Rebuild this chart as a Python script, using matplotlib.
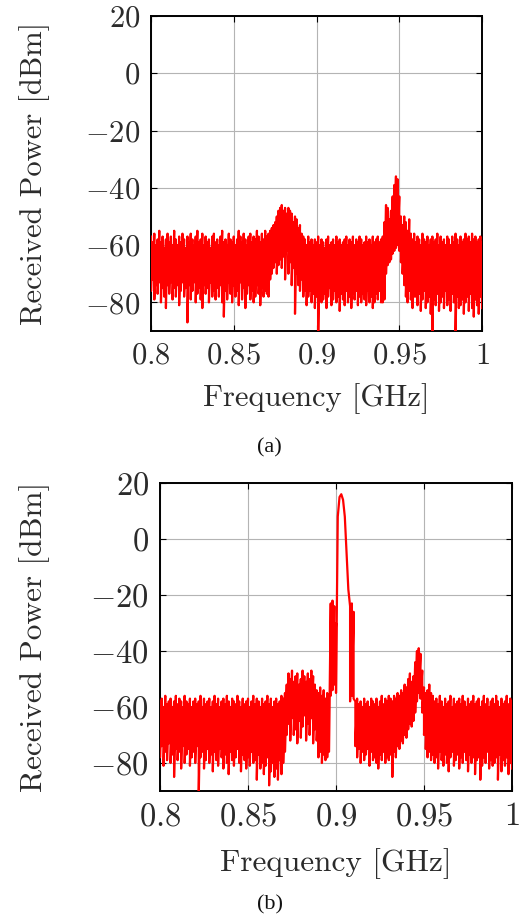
import numpy as np
import matplotlib
matplotlib.use("Agg")
import matplotlib.pyplot as plt

# frequency grid [GHz], 1 MHz steps
freq = np.round(np.linspace(0.8, 1.0, 201), 3)

# (a) upper / lower edge of the measured trace [dBm]
upper_a = [
    -57, -59, -56, -60, -58, -55, -59, -57, -61, -58,
    -56, -59, -57, -60, -55, -58, -60, -57, -59, -56,
    -58, -61, -57, -59, -56, -58, -60, -57, -55, -59,
    -58, -56, -60, -57, -59, -58, -61, -57, -56, -59,
    -58, -60, -57, -55, -59, -58, -60, -56, -58, -59,
    -57, -60, -58, -55, -57, -59, -56, -58, -60, -57,
    -56, -59, -57, -58, -55, -57, -59, -56, -58, -55,
    -57, -56, -55, -54, -53, -52, -50, -48, -47, -46,
    -48, -47, -49, -47, -48, -49, -52, -50, -51, -54,
    -53, -56, -57, -58, -60, -57, -59, -58, -60, -58,
    -59, -57, -60, -58, -59, -61, -58, -57, -60, -59,
    -58, -60, -57, -59, -58, -60, -59, -58, -57, -60,
    -58, -59, -57, -60, -58, -59, -57, -58, -60, -59,
    -57, -59, -58, -60, -57, -59, -58, -57, -59, -58,
    -57, -52, -46, -47, -51, -48, -43, -39, -36, -37,
    -43, -50, -53, -50, -52, -55, -51, -56, -58, -56,
    -59, -57, -58, -60, -56, -58, -59, -57, -60, -58,
    -57, -59, -58, -56, -60, -57, -59, -58, -60, -57,
    -58, -60, -57, -59, -56, -58, -60, -57, -59, -58,
    -56, -58, -57, -59, -56, -58, -57, -59, -58, -57, -59,
]
lower_a = [
    -76, -72, -79, -74, -77, -73, -80, -75, -78, -82,
    -74, -77, -73, -79, -75, -78, -74, -81, -76, -73,
    -78, -75, -87, -74, -79, -76, -73, -80, -77, -75,
    -79, -82, -74, -77, -75, -80, -73, -78, -76, -79,
    -75, -78, -74, -80, -85, -76, -79, -73, -77, -80,
    -74, -78, -76, -81, -73, -79, -75, -82, -77, -74,
    -79, -76, -80, -78, -74, -77, -81, -75, -78, -76,
    -77, -78, -72, -70, -68, -66, -70, -67, -65, -68,
    -64, -72, -62, -70, -66, -74, -68, -84, -70, -74,
    -76, -72, -78, -76, -81, -78, -76, -80, -77, -82,
    -78, -92, -76, -80, -79, -77, -82, -78, -75, -81,
    -79, -76, -80, -78, -83, -77, -79, -81, -76, -80,
    -78, -82, -77, -79, -76, -81, -78, -80, -77, -79,
    -81, -76, -80, -78, -82, -80, -77, -79, -76, -80,
    -80, -79, -70, -67, -66, -65, -63, -62, -61, -60,
    -62, -66, -70, -74, -78, -80, -76, -79, -82, -78,
    -78, -81, -77, -83, -79, -76, -82, -80, -78, -84,
    -92, -79, -81, -77, -83, -80, -78, -82, -76, -81,
    -79, -83, -77, -80, -92, -78, -82, -81, -79, -84,
    -80, -78, -83, -77, -82, -85, -79, -81, -84, -78, -82,
]

# (b) upper / lower edge of the measured trace [dBm]
upper_b = [
    -58, -57, -60, -56, -59, -58, -57, -60, -58, -56,
    -59, -57, -58, -60, -56, -58, -59, -57, -60, -58,
    -57, -59, -58, -56, -60, -57, -59, -58, -57, -60,
    -58, -56, -59, -57, -60, -58, -57, -59, -56, -58,
    -60, -57, -58, -59, -56, -58, -60, -57, -59, -58,
    -57, -60, -58, -56, -59, -57, -58, -60, -57, -59,
    -58, -56, -59, -57, -60, -58, -57, -59, -58, -56,
    -57, -55, -52, -48, -50, -47, -51, -49, -48, -52,
    -50, -47, -49, -51, -48, -50, -47, -49, -52, -54,
    -55, -53, -56, -54, -57, -55, -56, -23, -22, -24,
    -30, 8, 15, 16, 14, 8, -5, -18, -24, -23,
    -26, -58, -57, -59, -58, -60, -57, -59, -58, -60,
    -57, -58, -59, -57, -60, -58, -56, -59, -57, -58,
    -56, -57, -58, -56, -57, -55, -56, -54, -55, -52,
    -53, -50, -48, -51, -49, -44, -40, -39, -41, -47,
    -53, -55, -54, -52, -55, -56, -58, -57, -59, -56,
    -58, -60, -57, -59, -58, -56, -60, -57, -59, -58,
    -57, -59, -56, -58, -60, -57, -59, -58, -56, -59,
    -58, -57, -60, -58, -56, -59, -57, -60, -58, -57,
    -59, -56, -58, -60, -57, -59, -58, -56, -59, -57, -58,
]
lower_b = [
    -78, -74, -81, -76, -79, -73, -80, -77, -85, -75,
    -79, -76, -82, -74, -80, -77, -75, -81, -78, -76,
    -80, -74, -92, -78, -76, -82, -79, -75, -80, -77,
    -83, -76, -79, -81, -75, -78, -82, -77, -80, -84,
    -76, -79, -81, -78, -75, -80, -83, -77, -79, -82,
    -78, -81, -76, -80, -79, -86, -77, -82, -80, -84,
    -81, -78, -88, -83, -80, -85, -82, -86, -79, -84,
    -80, -76, -70, -66, -72, -64, -70, -68, -73, -65,
    -71, -67, -63, -72, -66, -70, -64, -73, -68, -72,
    -78, -76, -80, -77, -79, -78, -76, -56, -54, -52,
    -55, 8, 15, 16, 14, 8, -5, -18, -58, -56,
    -57, -74, -78, -75, -80, -76, -79, -77, -75, -81,
    -76, -79, -78, -80, -82, -77, -79, -76, -80, -78,
    -79, -77, -85, -76, -78, -74, -75, -72, -73, -70,
    -71, -68, -66, -67, -65, -62, -58, -55, -57, -62,
    -70, -75, -78, -76, -79, -77, -80, -78, -82, -76,
    -79, -81, -77, -80, -83, -78, -76, -81, -79, -77,
    -82, -78, -80, -76, -79, -83, -77, -80, -78, -84,
    -79, -78, -86, -81, -78, -80, -76, -82, -79, -81,
    -80, -78, -86, -77, -83, -79, -81, -78, -84, -80, -82,
]

x_ticks = [0.8, 0.85, 0.9, 0.95, 1.0]
x_labels = ["0.8", "0.85", "0.9", "0.95", "1"]
y_ticks = [-80, -60, -40, -20, 0, 20]

plt.rcParams["mathtext.fontset"] = "cm"
plt.rcParams["font.family"] = "cmr10"
TXT = "#2b2b2b"


def trace(f, hi, lo):
    # walk up/down between the two edges at every sample
    x = np.repeat(f, 2)
    y = np.column_stack([hi, lo]).ravel()
    return x, y


def draw(ax, hi, lo, fs_tick, fs_lab, xlab_y, ylab_x):
    x, y = trace(freq, hi, lo)
    ax.plot(x, y, color="#ff0000", lw=1.6, zorder=3)
    ax.set_xlim(0.8, 1.0)
    ax.set_ylim(-90, 20)
    ax.set_xticks(x_ticks)
    ax.set_xticklabels(["$" + s + "$" for s in x_labels])
    ax.set_yticks(y_ticks)
    ax.set_yticklabels(["$%d$" % v for v in y_ticks])
    ax.grid(True, color="#b4b4b4", lw=0.8)
    ax.set_axisbelow(True)
    ax.tick_params(direction="in", top=True, right=True, length=4, width=0.8,
                   labelsize=fs_tick, labelcolor=TXT, pad=8)
    for s in ax.spines.values():
        s.set_linewidth(1.4)
    ax.set_xlabel("Frequency [GHz]", fontsize=fs_lab, color=TXT)
    ax.set_ylabel("Received Power [dBm]", fontsize=fs_lab, color=TXT)
    ax.xaxis.set_label_coords(0.5, xlab_y)
    ax.yaxis.set_label_coords(ylab_x, 0.5)


fig = plt.figure(figsize=(5.26, 9.19), dpi=100)
ax1 = fig.add_axes([0.2871, 0.6398, 0.6293, 0.3428])
ax2 = fig.add_axes([0.3042, 0.1393, 0.6692, 0.3351])

draw(ax1, upper_a, lower_a, 22, 22, -0.165, -0.305)
draw(ax2, upper_b, lower_b, 23.5, 22.5, -0.185, -0.312)

fig.text(0.513, 1 - 448 / 919, "(a)", ha="center", va="center",
         family="Liberation Serif", fontsize=16, color="#111111")
fig.text(0.513, 1 - 905 / 919, "(b)", ha="center", va="center",
         family="Liberation Serif", fontsize=16, color="#111111")

fig.savefig("out.png", dpi=100)
